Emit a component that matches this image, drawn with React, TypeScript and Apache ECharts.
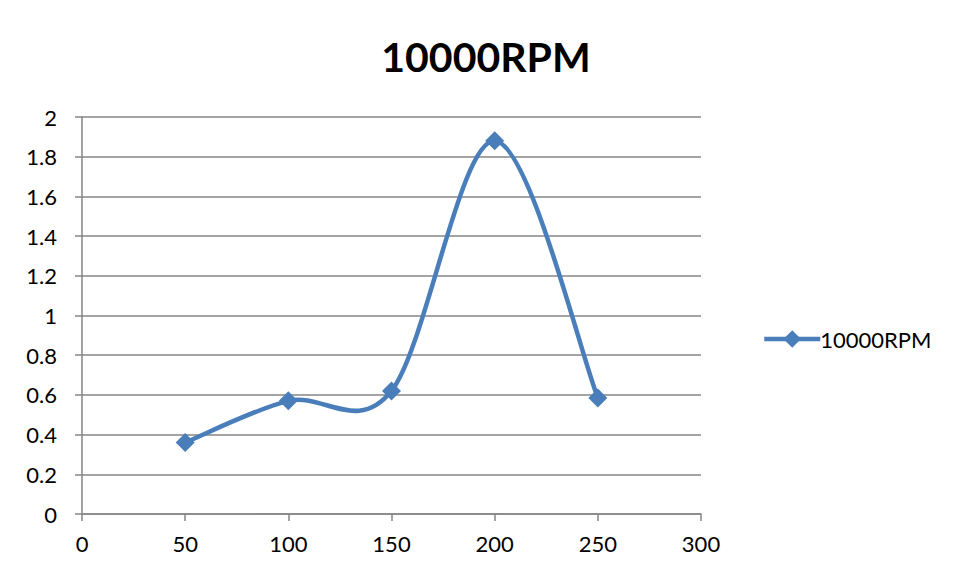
import React, { useEffect, useRef } from "react";
import * as echarts from "echarts";

const seriesName = "10000RPM";
const speeds = [50, 100, 150, 200, 250];
const values = [0.36, 0.57, 0.62, 1.88, 0.585];

const FONT = "Lato, 'Open Sans', sans-serif";
const BLUE = "#4a7ebb";
const GRAY = "#868686";
const FRAME = "#8c8c8c";

// Catmull-Rom style smoothing (control points at ±1/6 of the neighbour span),
// drawn one segment per data item in pixel space.
function renderCurve(params: any, api: any) {
  const i = params.dataIndex;
  const n = speeds.length;
  if (i >= n - 1) return null;
  const pt = (k: number) => {
    const j = Math.max(0, Math.min(n - 1, k));
    return api.coord([speeds[j], values[j]]);
  };
  const p0 = pt(i - 1);
  const p1 = pt(i);
  const p2 = pt(i + 1);
  const p3 = pt(i + 2);
  const c1 = [p1[0] + (p2[0] - p0[0]) / 6, p1[1] + (p2[1] - p0[1]) / 6];
  const c2 = [p2[0] - (p3[0] - p1[0]) / 6, p2[1] - (p3[1] - p1[1]) / 6];
  const d = `M${p1[0]},${p1[1]} C${c1[0]},${c1[1]} ${c2[0]},${c2[1]} ${p2[0]},${p2[1]}`;
  return {
    type: "path",
    shape: { pathData: d },
    style: { stroke: BLUE, lineWidth: 4.5, fill: "none", lineCap: "round", lineJoin: "round" },
  };
}

export default function App() {
  const ref = useRef<HTMLDivElement>(null);

  useEffect(() => {
    if (!ref.current) return;
    const chart = echarts.init(ref.current, null, { renderer: "svg" });
    const points = speeds.map((s, i) => [s, values[i]]);
    chart.setOption({
      animation: false,
      backgroundColor: "#ffffff",
      graphic: {
        elements: [
          {
            type: "rect",
            left: 3,
            top: 4,
            shape: { width: 2, height: 574 },
            style: { fill: FRAME },
            silent: true,
            z: 100,
          },
          {
            type: "rect",
            left: 3,
            top: 4,
            shape: { width: 953, height: 2 },
            style: { fill: FRAME },
            silent: true,
            z: 100,
          },
        ],
      },
      title: {
        text: seriesName,
        left: 481,
        top: 31,
        textAlign: "center",
        textStyle: { fontFamily: FONT, fontSize: 41, fontWeight: "bold", color: "#000" },
      },
      legend: {
        left: 757,
        top: 323,
        itemWidth: 56,
        itemHeight: 22,
        itemGap: 4,
        textStyle: { fontFamily: FONT, fontSize: 22, color: "#000", padding: [0, 0, 0, -5] },
        lineStyle: { width: 4.5, color: BLUE, opacity: 1 },
        data: [{ name: seriesName }],
      },
      grid: { left: 82, right: 255, top: 117, bottom: 64 },
      xAxis: {
        type: "value",
        min: 0,
        max: 300,
        interval: 50,
        axisLine: { lineStyle: { color: GRAY, width: 1.5 } },
        axisTick: { show: true, length: 7, lineStyle: { color: GRAY, width: 1.5 } },
        axisLabel: { fontFamily: FONT, fontSize: 22, color: "#000", margin: 18 },
        splitLine: { show: false },
      },
      yAxis: {
        type: "value",
        min: 0,
        max: 2,
        interval: 0.2,
        axisLine: { show: true, lineStyle: { color: GRAY, width: 1.5 } },
        axisTick: { show: true, length: 7, lineStyle: { color: GRAY, width: 1.5 } },
        axisLabel: {
          fontFamily: FONT,
          fontSize: 22,
          color: "#000",
          margin: 25,
          formatter: (v: number) => String(Math.round(v * 10) / 10),
        },
        splitLine: { show: true, lineStyle: { color: GRAY, width: 1.5 } },
      },
      series: [
        {
          name: "curve",
          type: "custom",
          renderItem: renderCurve,
          data: points,
          encode: { x: 0, y: 1 },
          z: 2,
          silent: true,
        },
        {
          name: seriesName,
          type: "line",
          data: points,
          symbol: "diamond",
          symbolSize: 19,
          itemStyle: { color: BLUE },
          lineStyle: { color: BLUE, width: 0, opacity: 0 },
          z: 3,
        },
      ],
    });
    return () => chart.dispose();
  }, []);

  return (
    <div style={{ width: 956, height: 578, margin: -8 }}>
      <div ref={ref} style={{ width: 956, height: 578 }} />
    </div>
  );
}
